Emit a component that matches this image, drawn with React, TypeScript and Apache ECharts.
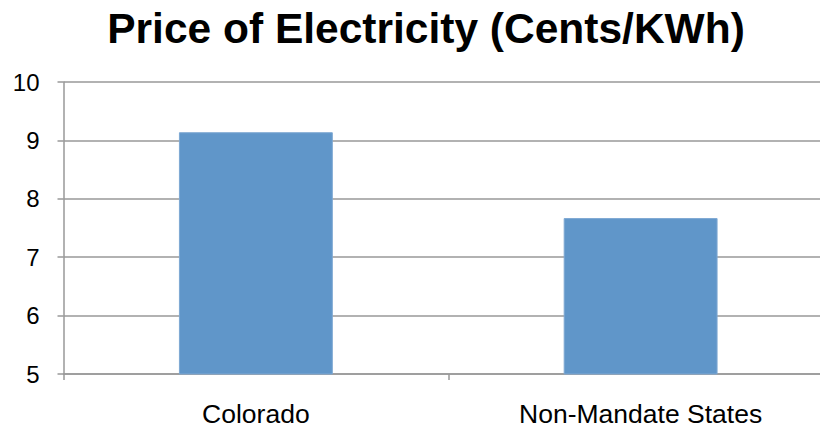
import React, { useEffect, useRef } from "react";
import * as echarts from "echarts";

const categories = ["Colorado", "Non-Mandate States"];
const prices = [9.14, 7.67];
const yTicks = [5, 10];

export default function App() {
  const ref = useRef<HTMLDivElement>(null);
  useEffect(() => {
    const chart = echarts.init(ref.current!, null, { renderer: "svg" });
    chart.setOption({
      animation: false,
      title: {
        text: "Price of Electricity (Cents/KWh)",
        left: 421,
        top: 2,
        textAlign: "center",
        textStyle: {
          fontFamily: "Liberation Sans, Arial, sans-serif",
          fontSize: 42.5,
          fontWeight: "bold",
          color: "#000",
        },
      },
      grid: { left: 63.5, right: 15, top: 82, bottom: 55, containLabel: false },
      xAxis: {
        type: "category",
        data: categories,
        axisLine: { lineStyle: { color: "#999", width: 1.5 } },
        axisTick: { show: true, length: 6, lineStyle: { color: "#999", width: 1.5 } },
        axisLabel: {
          fontFamily: "Liberation Sans, Arial, sans-serif",
          fontSize: 26.5,
          color: "#000",
          margin: 26,
        },
      },
      yAxis: {
        type: "value",
        min: yTicks[0],
        max: yTicks[1],
        interval: 1,
        axisLine: { show: true, lineStyle: { color: "#999", width: 1.5 } },
        axisTick: { show: true, length: 6, lineStyle: { color: "#999", width: 1.5 } },
        splitLine: { lineStyle: { color: "#999", width: 1.5 } },
        axisLabel: {
          fontFamily: "Liberation Sans, Arial, sans-serif",
          fontSize: 24,
          color: "#000",
          margin: 24,
        },
      },
      series: [
        {
          type: "bar",
          data: prices,
          barCategoryGap: "60%",
          itemStyle: { color: "#6096C9", borderColor: "#7EA8D3", borderWidth: 1 },
        },
      ],
    });
    return () => chart.dispose();
  }, []);
  return (
    <div style={{ width: 828, height: 429, marginLeft: -8, marginTop: -8, overflow: "hidden" }}>
      <div ref={ref} style={{ width: 848, height: 429 }} />
    </div>
  );
}
